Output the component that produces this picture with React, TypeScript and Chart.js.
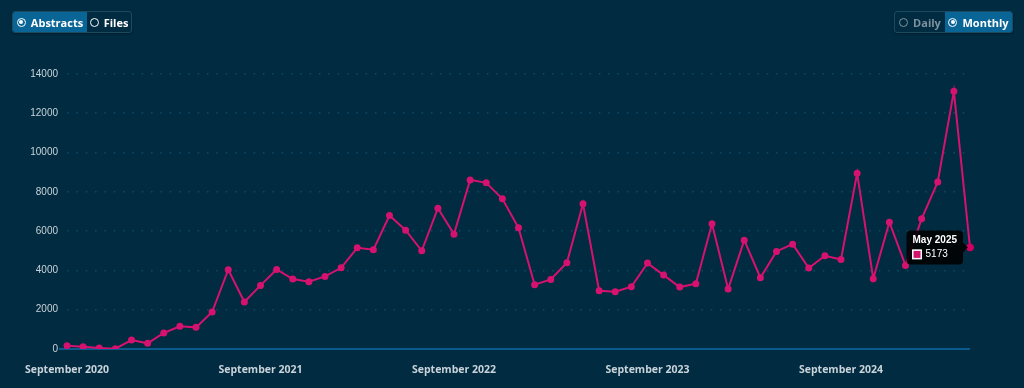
import React, { useEffect, useRef } from 'react';
import { Chart, registerables } from 'chart.js';

Chart.register(...registerables);

const MONTH_NAMES = ['January', 'February', 'March', 'April', 'May', 'June', 'July', 'August', 'September', 'October', 'November', 'December'];
const START_YEAR = 2020;
const START_MONTH = 8; // September

const abstracts = [
  170, 119, 51, 17, 458, 288, 814, 1153, 1102, 1881,
  4034, 2390, 3237, 4051, 3559, 3424, 3695, 4136, 5153, 5051,
  6797, 6051, 5000, 7169, 5847, 8610, 8458, 7644, 6169, 3271,
  3542, 4390, 7390, 2966, 2915, 3169, 4373, 3763, 3153, 3322,
  6373, 3051, 5542, 3627, 4966, 5339, 4119, 4746, 4559, 8949,
  3576, 6458, 4254, 6627, 8508, 13119, 5173,
];

const categories: string[] = abstracts.map((_, i) => {
  const m = (START_MONTH + i) % 12;
  const y = START_YEAR + Math.floor((START_MONTH + i) / 12);
  return `${MONTH_NAMES[m]} ${y}`;
});

const yTicks = [0, 2000, 4000, 6000, 8000, 10000, 12000, 14000];

const BG = '#012b40';
const PINK = '#d6126f';

function Radio({ active, color }: { active: boolean; color: string }) {
  return (
    <span
      style={{
        width: 7,
        height: 7,
        borderRadius: '50%',
        border: `1.3px solid ${color}`,
        display: 'inline-flex',
        alignItems: 'center',
        justifyContent: 'center',
        boxSizing: 'content-box',
      }}
    >
      {active && <span style={{ width: 4, height: 4, borderRadius: '50%', background: color }} />}
    </span>
  );
}

function Segment({ label, active, width, dim }: { label: string; active: boolean; width: number; dim?: boolean }) {
  const color = dim ? '#7f929e' : '#ffffff';
  return (
    <div
      style={{
        width,
        height: '100%',
        background: active ? '#0a6597' : 'transparent',
        display: 'flex',
        alignItems: 'center',
        justifyContent: 'center',
        gap: 5,
        color,
        fontFamily: '"Open Sans", sans-serif',
        fontWeight: 700,
        fontSize: 11,
      }}
    >
      <Radio active={active} color={color} />
      <span>{label}</span>
    </div>
  );
}

export default function App() {
  const canvasRef = useRef<HTMLCanvasElement | null>(null);

  useEffect(() => {
    document.body.style.margin = '0';
    const canvas = canvasRef.current;
    if (!canvas) return;
    const chart = new Chart(canvas, {
      type: 'line',
      data: {
        labels: categories,
        datasets: [
          {
            label: 'Abstracts',
            data: abstracts,
            borderColor: PINK,
            backgroundColor: PINK,
            borderWidth: 2,
            pointRadius: 2.5,
            pointHoverRadius: 3.5,
            pointBackgroundColor: PINK,
            pointBorderColor: PINK,
            tension: 0,
          },
        ],
      },
      options: {
        animation: false,
        responsive: false,
        events: [],
        layout: { padding: { top: 74, right: 54, left: 0, bottom: 0 } },
        plugins: {
          legend: { display: false },
          tooltip: {
            enabled: true,
            backgroundColor: 'rgba(0,0,0,0.88)',
            titleColor: '#ffffff',
            bodyColor: '#ffffff',
            titleFont: { family: '"Liberation Sans", Arial, sans-serif', size: 10, weight: 'bold' },
            bodyFont: { family: '"Liberation Sans", Arial, sans-serif', size: 10 },
            padding: { x: 6, y: 4 },
            titleMarginBottom: 2,
            caretSize: 5,
            caretPadding: 2,
            cornerRadius: 4,
            boxWidth: 9,
            boxHeight: 9,
            boxPadding: 2,
            displayColors: true,
            callbacks: {
              label: (ctx: any) => String(ctx.parsed.y),
              labelColor: () => ({ borderColor: '#ffffff', backgroundColor: PINK, borderWidth: 1 }),
            },
          },
        },
        scales: {
          x: {
            type: 'category',
            offset: false,
            grid: { display: false, drawTicks: false },
            border: { display: false },
            afterFit: (scale: any) => {
              scale.height = 39;
            },
            ticks: {
              autoSkip: false,
              maxRotation: 0,
              minRotation: 0,
              padding: 15,
              color: '#c9d3da',
              font: { family: '"Open Sans", sans-serif', size: 10.5, weight: 'bold' },
              callback: (_v: any, i: number) => (categories[i].startsWith('September') ? categories[i] : null),
            },
          },
          y: {
            min: 0,
            max: 14000,
            afterFit: (scale: any) => {
              scale.width = 67;
            },
            afterBuildTicks: (scale: any) => {
              scale.ticks = yTicks.map((v) => ({ value: v }));
            },
            grid: {
              color: (ctx: any) => (ctx.tick && ctx.tick.value === 0 ? '#0a5a8c' : '#0d4868'),
              lineWidth: (ctx: any) => (ctx.tick && ctx.tick.value === 0 ? 2 : 1.6),
              drawTicks: true,
              tickLength: 8,
              tickColor: (ctx: any) => (ctx.tick && ctx.tick.value === 0 ? '#0a5a8c' : 'rgba(0,0,0,0)'),
            },
            border: {
              display: false,
              dash: (ctx: any) => (ctx.tick && ctx.tick.value === 0 ? [] : [1.6, 7.73]),
            },
            ticks: {
              padding: 1,
              color: '#c9d3da',
              font: { family: '"Liberation Sans", Arial, sans-serif', size: 10 },
              callback: (v: any) => String(v),
            },
          },
        },
      } as any,
    });

    const idx = abstracts.length - 1;
    const pt: any = chart.getDatasetMeta(0).data[idx];
    chart.setActiveElements([{ datasetIndex: 0, index: idx }]);
    chart.tooltip?.setActiveElements([{ datasetIndex: 0, index: idx }], { x: pt.x, y: pt.y });
    chart.update();

    return () => chart.destroy();
  }, []);

  return (
    <div style={{ position: 'fixed', left: 0, top: 0, width: 1024, height: 388, background: BG, overflow: 'hidden' }}>
      <canvas ref={canvasRef} width={1024} height={388} style={{ position: 'absolute', left: 0, top: 0, width: 1024, height: 388 }} />
      <div
        style={{
          position: 'absolute',
          left: 12,
          top: 11,
          height: 22,
          display: 'flex',
          border: '1px solid #1b4a63',
          borderRadius: 3,
          overflow: 'hidden',
          boxSizing: 'border-box',
          boxShadow: '0 1px 2px rgba(0,0,0,0.35)',
        }}
      >
        <Segment label="Abstracts" active={true} width={74} />
        <Segment label="Files" active={false} width={44} />
      </div>
      <div
        style={{
          position: 'absolute',
          left: 894,
          top: 11,
          height: 22,
          display: 'flex',
          border: '1px solid #1b4a63',
          borderRadius: 3,
          overflow: 'hidden',
          boxSizing: 'border-box',
          boxShadow: '0 1px 2px rgba(0,0,0,0.35)',
        }}
      >
        <Segment label="Daily" active={false} width={50} dim />
        <Segment label="Monthly" active={true} width={67} />
      </div>
    </div>
  );
}
